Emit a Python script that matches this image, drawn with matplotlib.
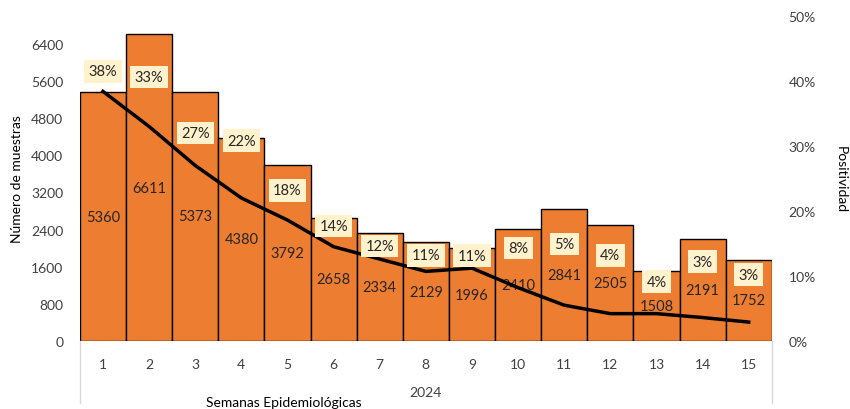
import numpy as np
import matplotlib.pyplot as plt
from matplotlib.ticker import FuncFormatter

plt.rcParams['font.family'] = ['Lato', 'DejaVu Sans']

semanas = list(range(1, 16))
muestras = [5360, 6611, 5373, 4380, 3792, 2658, 2334, 2129, 1996, 2410, 2841, 2505, 1508, 2191, 1752]
positividad = [38.4, 33.0, 27.0, 22.0, 18.6, 14.5, 12.6, 10.7, 11.2, 8.2, 5.5, 4.2, 4.2, 3.6, 2.9]
etiquetas_pct = ['38%', '33%', '27%', '22%', '18%', '14%', '12%', '11%', '11%', '8%', '5%', '4%', '4%', '3%', '3%']
# altura (en %) de las etiquetas de positividad
altura_etq = [41.5, 40.6, 32.0, 30.8, 23.2, 17.7, 14.6, 13.2, 13.1, 14.3, 14.9, 13.2, 9.1, 12.2, 10.2]

naranja = '#ED7D31'
gris = '#404040'

fig = plt.figure(figsize=(8.5, 4.1), dpi=100)
ax = fig.add_axes([0.094, 0.166, 0.814, 0.7925])

bars = ax.bar(semanas, muestras, width=1.0, color=naranja, edgecolor='black', linewidth=1.0)
ax.bar_label(bars, labels=[str(v) for v in muestras], label_type='center', fontsize=10.5, color='#262626')

ax.set_xlim(0.5, 15.5)
ax.set_ylim(0, 7000)
ax.set_yticks(np.arange(0, 6401, 800))
ax.set_xticks(semanas)
ax.tick_params(axis='both', length=0, labelsize=10, colors=gris)
ax.tick_params(axis='x', pad=12)
ax.tick_params(axis='y', pad=12)
for s in ax.spines.values():
    s.set_visible(False)
ax.set_ylabel('Número de muestras', fontsize=10, color='black', labelpad=6)

ax2 = ax.twinx()
ax2.plot(semanas, positividad, color='black', linewidth=2.5)
ax2.set_ylim(0, 50)
ax2.set_yticks(np.arange(0, 51, 10))
ax2.yaxis.set_major_formatter(FuncFormatter(lambda v, p: f'{v:.0f}%'))
ax2.tick_params(axis='y', length=0, labelsize=10, colors=gris, pad=12)
for s in ax2.spines.values():
    s.set_visible(False)
ax2.set_ylabel('Positividad', fontsize=10, color='black', rotation=270, labelpad=22)

for x, y, t in zip(semanas, altura_etq, etiquetas_pct):
    ax2.text(x, y, t, ha='center', va='center', fontsize=10.5, color='#262626',
             bbox=dict(boxstyle='square,pad=0.3', facecolor='#FFF2CC', edgecolor='none'))

# eje de categorías de varios niveles
for xp in (0.5, 15.5):
    ax.plot([xp, xp], [0, -0.19], transform=ax.get_xaxis_transform(), color='#D9D9D9',
            linewidth=1, clip_on=False)
ax.text(0.5, -0.158, '2024', transform=ax.transAxes, ha='center', va='center', fontsize=10, color=gris)
ax.text(0.295, -0.188, 'Semanas Epidemiológicas', transform=ax.transAxes, ha='center', va='center',
        fontsize=10, color='black')

fig.savefig('out.png', dpi=100)
